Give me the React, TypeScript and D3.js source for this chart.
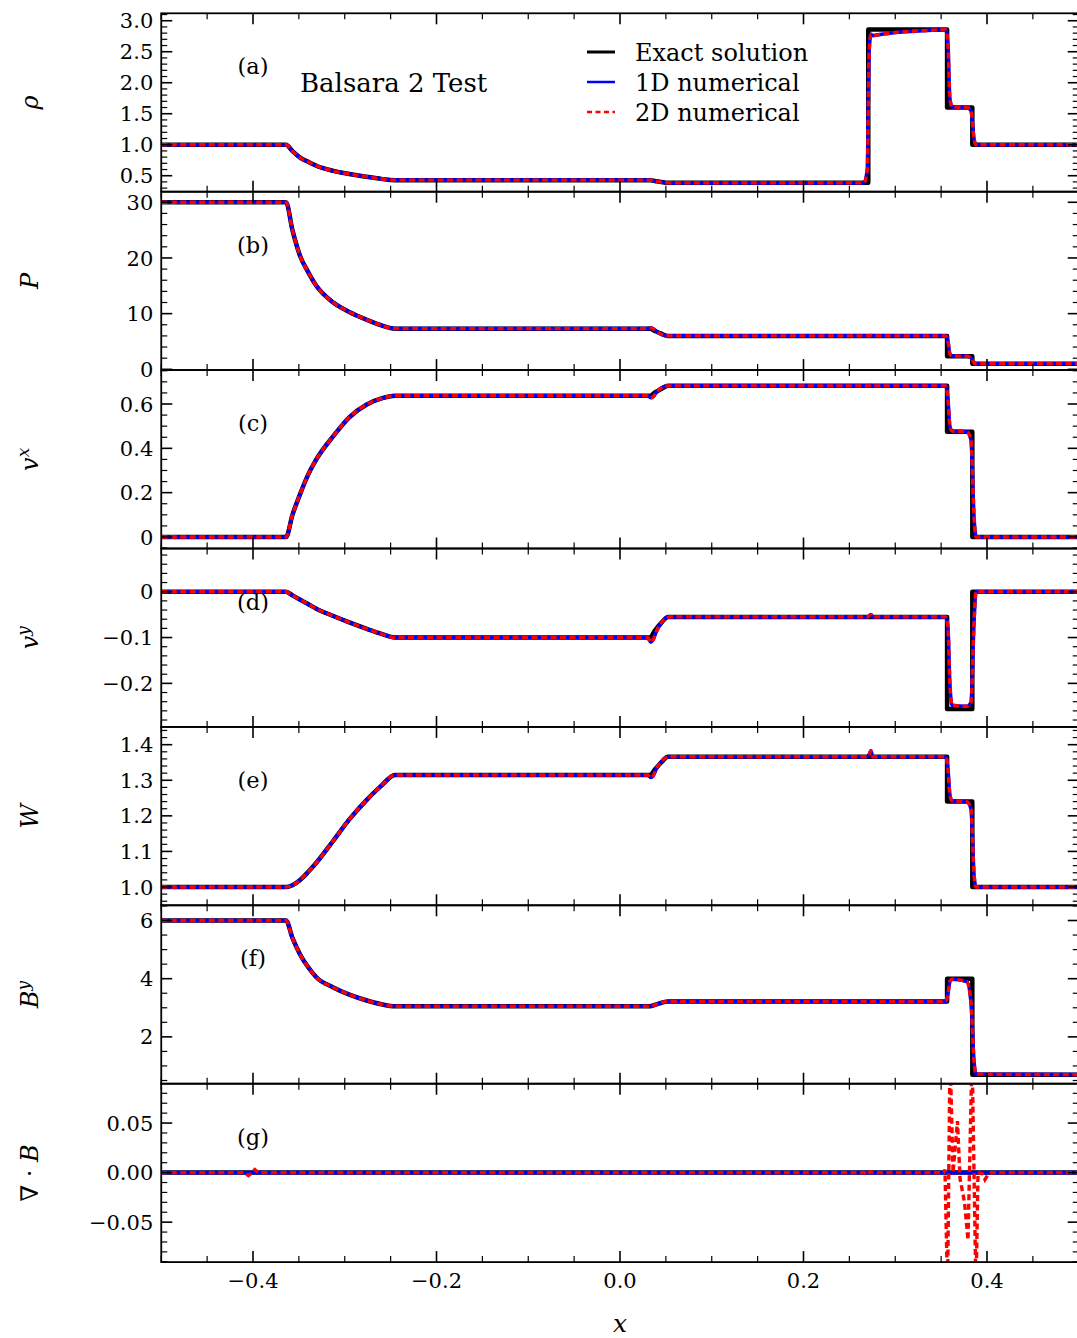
import React, { useEffect, useRef } from "react";
import * as d3 from "d3";

// ---------- data ----------
const xExact = [-0.5, -0.364, -0.357, -0.349, -0.34, -0.331, -0.3125, -0.295, -0.276, -0.26, -0.2453, 0.0328, 0.038, 0.045, 0.0523, 0.2706, 0.2706, 0.3565, 0.3565, 0.384, 0.384, 0.5];
const rhoExact = [1, 1, 0.896, 0.796, 0.724, 0.66, 0.577, 0.527, 0.483, 0.449, 0.428, 0.428, 0.415, 0.398, 0.385, 0.385, 2.86, 2.86, 1.6, 1.6, 1.0, 1.0];
const pExact = [30, 30, 25, 20.5, 17.5, 15, 12, 10.3, 8.9, 7.9, 7.3, 7.3, 6.9, 6.4, 6.0, 6.0, 6.0, 6.0, 2.35, 2.35, 1.0, 1.0];
const vxExact = [0, 0, 0.1, 0.19, 0.28, 0.35, 0.455, 0.54, 0.598, 0.625, 0.637, 0.637, 0.652, 0.668, 0.682, 0.682, 0.682, 0.682, 0.475, 0.475, 0, 0];
const vyExact = [0, 0, -0.008, -0.017, -0.027, -0.037, -0.053, -0.067, -0.081, -0.092, -0.1, -0.1, -0.085, -0.068, -0.055, -0.055, -0.055, -0.055, -0.256, -0.256, 0, 0];
const wExact = [1, 1, 1.005, 1.019, 1.042, 1.068, 1.13, 1.19, 1.245, 1.285, 1.315, 1.315, 1.33, 1.35, 1.366, 1.366, 1.366, 1.366, 1.24, 1.24, 1, 1];
const byExact = [6, 6, 5.4, 4.85, 4.4, 4.05, 3.7, 3.45, 3.25, 3.12, 3.05, 3.05, 3.1, 3.17, 3.22, 3.22, 3.22, 3.22, 4.0, 4.0, 0.7, 0.7];
const xDivExact = [-0.5, 0.5];
const divExact = [0, 0];

const xNum = [-0.5, -0.364, -0.357, -0.349, -0.34, -0.331, -0.3125, -0.295, -0.276, -0.26, -0.2453, 0.03, 0.0335, 0.036, 0.04, 0.045, 0.05, 0.054, 0.266, 0.2695, 0.2715, 0.2735, 0.2755, 0.28, 0.3, 0.33, 0.355, 0.3575, 0.3595, 0.362, 0.378, 0.3825, 0.386, 0.388, 0.5];
const rhoNum = [1, 1, 0.896, 0.796, 0.724, 0.66, 0.577, 0.527, 0.483, 0.449, 0.428, 0.428, 0.427, 0.42, 0.41, 0.397, 0.387, 0.385, 0.385, 0.6, 2.5, 2.78, 2.76, 2.77, 2.81, 2.84, 2.855, 2.6, 1.75, 1.61, 1.6, 1.55, 1.08, 1.0, 1.0];
const pNum = [30, 30, 25, 20.5, 17.5, 15, 12, 10.3, 8.9, 7.9, 7.3, 7.3, 7.45, 7.3, 6.8, 6.3, 6.05, 6.0, 6.0, 6.0, 6.0, 6.05, 6.0, 6.0, 6.0, 6.0, 6.0, 5.0, 2.8, 2.4, 2.35, 2.1, 1.15, 1.0, 1.0];
const vxNum = [0, 0, 0.1, 0.19, 0.28, 0.35, 0.455, 0.54, 0.598, 0.625, 0.637, 0.637, 0.628, 0.632, 0.655, 0.672, 0.681, 0.682, 0.682, 0.682, 0.682, 0.683, 0.682, 0.682, 0.682, 0.682, 0.682, 0.62, 0.5, 0.478, 0.475, 0.44, 0.08, 0.0, 0.0];
const vyNum = [0, 0, -0.008, -0.017, -0.027, -0.037, -0.053, -0.067, -0.081, -0.092, -0.1, -0.1, -0.11, -0.105, -0.085, -0.068, -0.057, -0.055, -0.055, -0.055, -0.053, -0.05, -0.055, -0.055, -0.055, -0.055, -0.055, -0.08, -0.2, -0.248, -0.25, -0.242, -0.06, 0, 0];
const wNum = [1, 1, 1.005, 1.019, 1.042, 1.068, 1.13, 1.19, 1.245, 1.285, 1.315, 1.315, 1.308, 1.312, 1.335, 1.352, 1.364, 1.366, 1.366, 1.366, 1.372, 1.383, 1.366, 1.366, 1.366, 1.366, 1.366, 1.33, 1.26, 1.242, 1.24, 1.22, 1.03, 1.0, 1.0];
const byNum = [6, 6, 5.4, 4.85, 4.4, 4.05, 3.7, 3.45, 3.25, 3.12, 3.05, 3.05, 3.05, 3.07, 3.12, 3.18, 3.21, 3.22, 3.22, 3.22, 3.22, 3.22, 3.22, 3.22, 3.22, 3.22, 3.22, 3.5, 3.9, 3.98, 3.9, 3.2, 1.1, 0.72, 0.7];
const xDiv1D = [-0.5, 0.5];
const div1D = [0, 0];
const xDiv2D = [-0.5, -0.41, -0.405, -0.401, -0.398, -0.394, -0.39, 0.266, 0.2695, 0.2725, 0.276, 0.353, 0.3542, 0.357, 0.3597, 0.363, 0.3678, 0.3706, 0.3755, 0.3793, 0.3837, 0.388, 0.3902, 0.395, 0.3978, 0.401, 0.405, 0.5];
const div2D = [0, 0, -0.003, 0.0, 0.003, 0.0, 0, 0, -0.002, 0.001, 0, 0, 0.003, -0.12, 0.12, 0.0, 0.052, -0.006, -0.03, -0.068, 0.12, -0.12, 0.0, -0.001, -0.007, -0.002, 0, 0];

const xMajor = [-0.4, -0.2, 0.0, 0.2, 0.4];
const xMajorLabels = ["\u22120.4", "\u22120.2", "0.0", "0.2", "0.4"];

const rhoTicks = [0.5, 1.0, 1.5, 2.0, 2.5, 3.0];
const rhoTickLabels = ["0.5", "1.0", "1.5", "2.0", "2.5", "3.0"];
const pTicks = [0, 10, 20, 30];
const pTickLabels = ["0", "10", "20", "30"];
const vxTicks = [0, 0.2, 0.4, 0.6];
const vxTickLabels = ["0", "0.2", "0.4", "0.6"];
const vyTicks = [-0.2, -0.1, 0];
const vyTickLabels = ["\u22120.2", "\u22120.1", "0"];
const wTicks = [1.0, 1.1, 1.2, 1.3, 1.4];
const wTickLabels = ["1.0", "1.1", "1.2", "1.3", "1.4"];
const byTicks = [2, 4, 6];
const byTickLabels = ["2", "4", "6"];
const divTicks = [-0.05, 0, 0.05];
const divTickLabels = ["\u22120.05", "0.00", "0.05"];

const legendLabels = ["Exact solution", "1D numerical", "2D numerical"];
const panelLetters = ["(a)", "(b)", "(c)", "(d)", "(e)", "(f)", "(g)"];

// ---------- layout ----------
const WIDTH = 1077;
const HEIGHT = 1338;
const LEFT = 161.25;
const RIGHT = 1078.75;
const TOP = 13.3;
const PH = 178.4;
const SERIF = "'DejaVu Serif', serif";

type Part = { t: string; it?: boolean; sup?: boolean };

const panels = [
  { domain: [0.242, 3.12], ticks: rhoTicks, labels: rhoTickLabels, minor: [0.3, 3.1, 0.1], xe: xExact, ye: rhoExact, xn: xNum, yn: rhoNum, x2: xNum, y2: rhoNum, ylab: [{ t: "\u03c1", it: true }] as Part[] },
  { domain: [-0.14, 31.9], ticks: pTicks, labels: pTickLabels, minor: [0, 31, 2], xe: xExact, ye: pExact, xn: xNum, yn: pNum, x2: xNum, y2: pNum, ylab: [{ t: "P", it: true }] as Part[] },
  { domain: [-0.052, 0.753], ticks: vxTicks, labels: vxTickLabels, minor: [-0.05, 0.75, 0.05], xe: xExact, ye: vxExact, xn: xNum, yn: vxNum, x2: xNum, y2: vxNum, ylab: [{ t: "v", it: true }, { t: "x", it: true, sup: true }] as Part[] },
  { domain: [-0.295, 0.0943], ticks: vyTicks, labels: vyTickLabels, minor: [-0.28, 0.09, 0.02], xe: xExact, ye: vyExact, xn: xNum, yn: vyNum, x2: xNum, y2: vyNum, ylab: [{ t: "v", it: true }, { t: "y", it: true, sup: true }] as Part[] },
  { domain: [0.9486, 1.45], ticks: wTicks, labels: wTickLabels, minor: [0.96, 1.45, 0.02], xe: xExact, ye: wExact, xn: xNum, yn: wNum, x2: xNum, y2: wNum, ylab: [{ t: "W", it: true }] as Part[] },
  { domain: [0.39, 6.523], ticks: byTicks, labels: byTickLabels, minor: [0.5, 6.5, 0.5], xe: xExact, ye: byExact, xn: xNum, yn: byNum, x2: xNum, y2: byNum, ylab: [{ t: "B", it: true }, { t: "y", it: true, sup: true }] as Part[] },
  { domain: [-0.0903, 0.0897], ticks: divTicks, labels: divTickLabels, minor: [-0.09, 0.089, 0.01], xe: xDivExact, ye: divExact, xn: xDiv1D, yn: div1D, x2: xDiv2D, y2: div2D, ylab: [{ t: "\u2207 \u00b7 " }, { t: "B", it: true }] as Part[] },
];

export default function App() {
  const ref = useRef<SVGSVGElement | null>(null);

  useEffect(() => {
    const svg = d3.select(ref.current);
    svg.selectAll("*").remove();

    const x = d3.scaleLinear().domain([-0.5, 0.5]).range([LEFT, RIGHT]);
    const xMinor = d3.range(-0.5, 0.5001, 0.05).filter((v) => !xMajor.some((m) => Math.abs(m - v) < 1e-6));

    panels.forEach((p, i) => {
      const top = TOP + i * PH;
      const bot = top + PH;
      const y = d3.scaleLinear().domain(p.domain).range([bot, top]);
      const g = svg.append("g");

      const clipId = `clip-${i}`;
      svg.append("clipPath").attr("id", clipId).append("rect")
        .attr("x", LEFT).attr("y", top).attr("width", RIGHT - LEFT).attr("height", PH);

      const mk = (xs: number[], ys: number[], curve: d3.CurveFactory) =>
        d3.line<[number, number]>().curve(curve).x((d) => x(d[0])).y((d) => y(d[1]))(xs.map((v, k) => [v, ys[k]] as [number, number])) as string;

      const lines = g.append("g").attr("clip-path", `url(#${clipId})`);
      lines.append("path").attr("d", mk(p.xe, p.ye, d3.curveMonotoneX)).attr("fill", "none").attr("stroke", "#000").attr("stroke-width", 4.5).attr("stroke-linejoin", "round");
      lines.append("path").attr("d", mk(p.xn, p.yn, d3.curveMonotoneX)).attr("fill", "none").attr("stroke", "#0000ff").attr("stroke-width", 3.6).attr("stroke-linejoin", "round");
      lines.append("path").attr("d", mk(p.x2, p.y2, i === 6 ? d3.curveLinear : d3.curveMonotoneX)).attr("fill", "none").attr("stroke", "#ff0000").attr("stroke-width", 3.4).attr("stroke-dasharray", "6,3.5");

      // frame
      g.append("rect").attr("x", LEFT).attr("y", top).attr("width", RIGHT - LEFT).attr("height", PH)
        .attr("fill", "none").attr("stroke", "#000").attr("stroke-width", 1.8);

      // x ticks (top and bottom, inward)
      const tk = g.append("g").attr("stroke", "#000");
      xMajor.forEach((v) => {
        tk.append("line").attr("x1", x(v)).attr("x2", x(v)).attr("y1", bot).attr("y2", bot - 11).attr("stroke-width", 1.6);
        tk.append("line").attr("x1", x(v)).attr("x2", x(v)).attr("y1", top).attr("y2", top + 11).attr("stroke-width", 1.6);
      });
      xMinor.forEach((v) => {
        tk.append("line").attr("x1", x(v)).attr("x2", x(v)).attr("y1", bot).attr("y2", bot - 6).attr("stroke-width", 1.2);
        tk.append("line").attr("x1", x(v)).attr("x2", x(v)).attr("y1", top).attr("y2", top + 6).attr("stroke-width", 1.2);
      });

      // y ticks
      const [m0, m1, ms] = p.minor;
      const yMinor = d3.range(m0, m1 + ms * 0.01, ms).filter((v) => !p.ticks.some((m) => Math.abs(m - v) < ms * 0.01));
      p.ticks.forEach((v, k) => {
        tk.append("line").attr("x1", LEFT).attr("x2", LEFT + 11).attr("y1", y(v)).attr("y2", y(v)).attr("stroke-width", 1.6);
        tk.append("line").attr("x1", RIGHT).attr("x2", RIGHT - 11).attr("y1", y(v)).attr("y2", y(v)).attr("stroke-width", 1.6);
        g.append("text").attr("x", LEFT - 8).attr("y", y(v)).attr("dy", "0.36em").attr("text-anchor", "end")
          .attr("font-family", SERIF).attr("font-size", 21).attr("fill", "#000").text(p.labels[k]);
      });
      yMinor.forEach((v) => {
        if (y(v) < top - 0.5 || y(v) > bot + 0.5) return;
        tk.append("line").attr("x1", LEFT).attr("x2", LEFT + 6).attr("y1", y(v)).attr("y2", y(v)).attr("stroke-width", 1.2);
        tk.append("line").attr("x1", RIGHT).attr("x2", RIGHT - 6).attr("y1", y(v)).attr("y2", y(v)).attr("stroke-width", 1.2);
      });

      // panel letter
      g.append("text").attr("x", x(-0.4)).attr("y", top + 53).attr("dy", "0.36em").attr("text-anchor", "middle")
        .attr("font-family", SERIF).attr("font-size", 22.5).text(panelLetters[i]);

      // y label
      const mid = (top + bot) / 2;
      const t = g.append("text").attr("transform", `translate(30,${mid}) rotate(-90)`).attr("text-anchor", "middle")
        .attr("dy", "0.35em").attr("font-family", SERIF).attr("font-size", 24);
      p.ylab.forEach((part) => {
        const ts = t.append("tspan").text(part.t).attr("font-style", part.it ? "italic" : "normal");
        if (part.sup) ts.attr("font-size", 17).attr("dy", "-0.55em");
      });

      if (i === panels.length - 1) {
        xMajor.forEach((v, k) => {
          g.append("text").attr("x", x(v)).attr("y", bot + 26).attr("text-anchor", "middle")
            .attr("font-family", SERIF).attr("font-size", 21).text(xMajorLabels[k]);
        });
        g.append("text").attr("x", x(0)).attr("y", 1332).attr("text-anchor", "middle").attr("font-family", SERIF)
          .attr("font-style", "italic").attr("font-size", 25).text("x");
      }
    });

    // title
    svg.append("text").attr("x", 300).attr("y", 92).attr("font-family", SERIF).attr("font-size", 26).text("Balsara 2 Test");

    // legend
    const lg = svg.append("g");
    const rows = [52, 82, 112];
    lg.append("line").attr("x1", 587).attr("x2", 615).attr("y1", rows[0]).attr("y2", rows[0]).attr("stroke", "#000").attr("stroke-width", 3);
    lg.append("line").attr("x1", 587).attr("x2", 615).attr("y1", rows[1]).attr("y2", rows[1]).attr("stroke", "#0000ff").attr("stroke-width", 2.5);
    lg.append("line").attr("x1", 587).attr("x2", 615).attr("y1", rows[2]).attr("y2", rows[2]).attr("stroke", "#ff0000").attr("stroke-width", 2.5).attr("stroke-dasharray", "5,3.5");
    legendLabels.forEach((l, k) => {
      lg.append("text").attr("x", 635).attr("y", rows[k]).attr("dy", "0.36em").attr("font-family", SERIF).attr("font-size", 24).text(l);
    });
  }, []);

  return (
    <svg ref={ref} width={WIDTH} height={HEIGHT} style={{ display: "block", position: "absolute", left: 0, top: 0, background: "#fff" }} />
  );
}
